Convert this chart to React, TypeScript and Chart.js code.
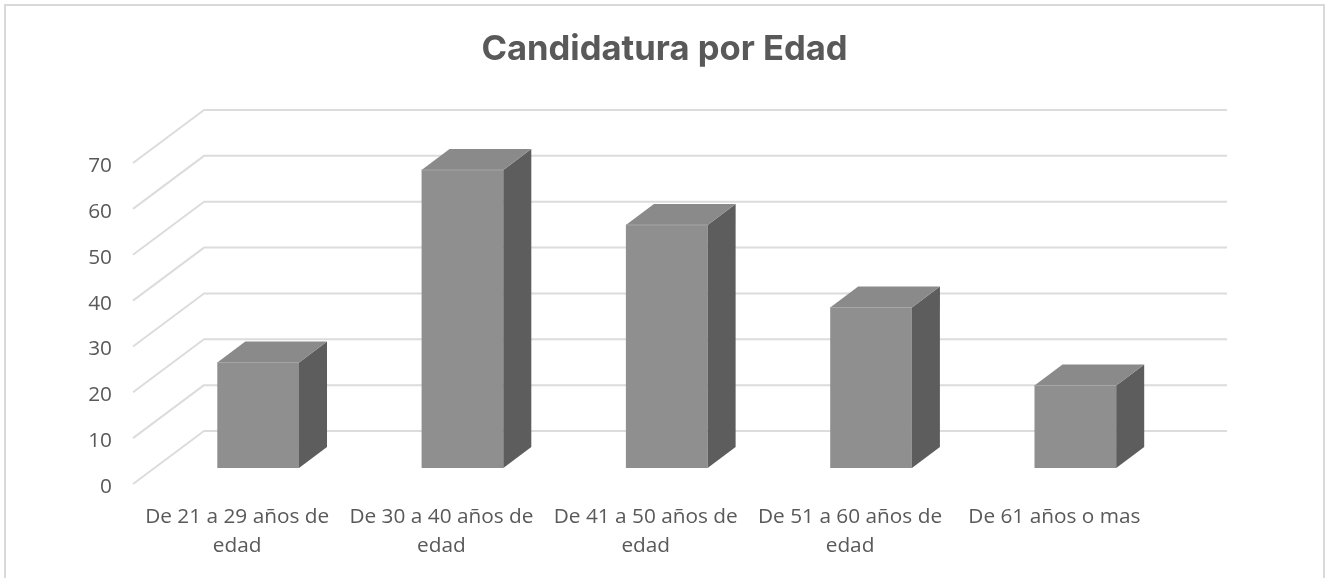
import React, { useEffect, useRef } from "react";
import { Chart, registerables } from "chart.js";

Chart.register(...registerables);

const categories = [
  ["De 21 a 29 años de", "edad"],
  ["De 30 a 40 años de", "edad"],
  ["De 41 a 50 años de", "edad"],
  ["De 51 a 60 años de", "edad"],
  ["De 61 años o mas"],
];
const values = [23, 65, 53, 35, 18];
const titleText = "Candidatura por Edad";

const TEXT = "#595959";
const GRID = "#dcdcdc";
const FONT = "'Open Sans', sans-serif";
const TITLE_FONT = "Inter, sans-serif";
const BAR_SHIFT_X = 21;
const BAR_SHIFT_Y = -16;
const BAR_DX = 28;
const BAR_DY = 21;
const WALL_DX = 71;
const WALL_DY = 53;

const wallPlugin = {
  id: "wall",
  beforeDatasetsDraw(chart: any) {
    const { ctx, scales, chartArea } = chart;
    const front = chartArea.left - 2;
    const back = front + WALL_DX;
    const right = chartArea.right + 70.5;
    ctx.save();
    ctx.strokeStyle = GRID;
    ctx.lineWidth = 2;
    ctx.lineJoin = "round";
    scales.y.ticks.forEach((t: any) => {
      const y = scales.y.getPixelForValue(t.value);
      ctx.beginPath();
      ctx.moveTo(front, y);
      ctx.lineTo(back, y - WALL_DY);
      ctx.lineTo(right, y - WALL_DY);
      ctx.stroke();
    });
    ctx.restore();
  },
};

const bar3dPlugin = {
  id: "bar3d",
  beforeDatasetDraw(chart: any) {
    chart.ctx.save();
    chart.ctx.translate(BAR_SHIFT_X, BAR_SHIFT_Y);
  },
  afterDatasetDraw(chart: any, args: any) {
    const { ctx } = chart;
    const meta = chart.getDatasetMeta(args.index);
    meta.data.forEach((bar: any) => {
      const p = bar.getProps(["x", "y", "base", "width"], true);
      const l = p.x - p.width / 2;
      const r = p.x + p.width / 2;
      ctx.fillStyle = "#5d5d5d";
      ctx.beginPath();
      ctx.moveTo(r, p.y);
      ctx.lineTo(r + BAR_DX, p.y - BAR_DY);
      ctx.lineTo(r + BAR_DX, p.base - BAR_DY);
      ctx.lineTo(r, p.base);
      ctx.closePath();
      ctx.fill();
      ctx.fillStyle = "#8a8a8a";
      ctx.beginPath();
      ctx.moveTo(l, p.y);
      ctx.lineTo(l + BAR_DX, p.y - BAR_DY);
      ctx.lineTo(r + BAR_DX, p.y - BAR_DY);
      ctx.lineTo(r, p.y);
      ctx.closePath();
      ctx.fill();
      ctx.strokeStyle = "#a6a6a6";
      ctx.lineWidth = 1;
      ctx.beginPath();
      ctx.moveTo(l, p.y);
      ctx.lineTo(r, p.y);
      ctx.stroke();
    });
    ctx.restore();
  },
};

export default function App() {
  const ref = useRef<HTMLCanvasElement>(null);
  useEffect(() => {
    const chart = new Chart(ref.current as HTMLCanvasElement, {
      type: "bar",
      data: {
        labels: categories as any,
        datasets: [
          {
            data: values,
            backgroundColor: "#8f8f8f",
            borderWidth: 0,
            barPercentage: 0.4,
            categoryPercentage: 1,
            clip: false,
          } as any,
        ],
      },
      plugins: [wallPlugin, bar3dPlugin],
      options: {
        animation: false,
        responsive: true,
        maintainAspectRatio: false,
        layout: { padding: { left: 8, right: 5, top: 0, bottom: 0 } },
        plugins: {
          legend: { display: false },
          tooltip: { enabled: false },
          title: {
            display: true,
            text: titleText,
            color: TEXT,
            font: { family: TITLE_FONT, size: 34.6, weight: "bold", lineHeight: 1.2 },
            padding: { top: 28.5, bottom: 93 },
          },
        },
        scales: {
          x: {
            grid: { display: false, drawTicks: false },
            border: { display: false },
            ticks: {
              color: TEXT,
              font: { family: FONT, size: 20.8, lineHeight: 1.4 },
              padding: 18.5,
              maxRotation: 0,
              autoSkip: false,
            },
            afterFit: (s: any) => {
              s.height = 94;
            },
          },
          y: {
            min: 0,
            max: 70,
            grid: { display: false, drawTicks: false },
            border: { display: false },
            ticks: {
              stepSize: 10,
              color: TEXT,
              font: { family: FONT, size: 20.8 },
              padding: 23,
              labelOffset: 3,
            },
            afterFit: (s: any) => {
              s.width = 127;
            },
          },
          y2: {
            position: "right",
            display: true,
            grid: { display: false },
            border: { display: false },
            ticks: { display: false },
            afterFit: (s: any) => {
              s.width = 164.5;
            },
          },
        },
      } as any,
    });
    return () => chart.destroy();
  }, []);
  return (
    <div style={{ position: "fixed", left: 0, top: 0, width: 1326, height: 578, overflow: "hidden", background: "#fff" }}>
      <div
        style={{
          position: "absolute",
          left: 4,
          top: 4,
          width: 1321,
          height: 640,
          border: "2px solid #d9d9d9",
          boxSizing: "border-box",
        }}
      />
      <canvas ref={ref} style={{ position: "absolute", left: 0, top: 0 }} />
    </div>
  );
}
